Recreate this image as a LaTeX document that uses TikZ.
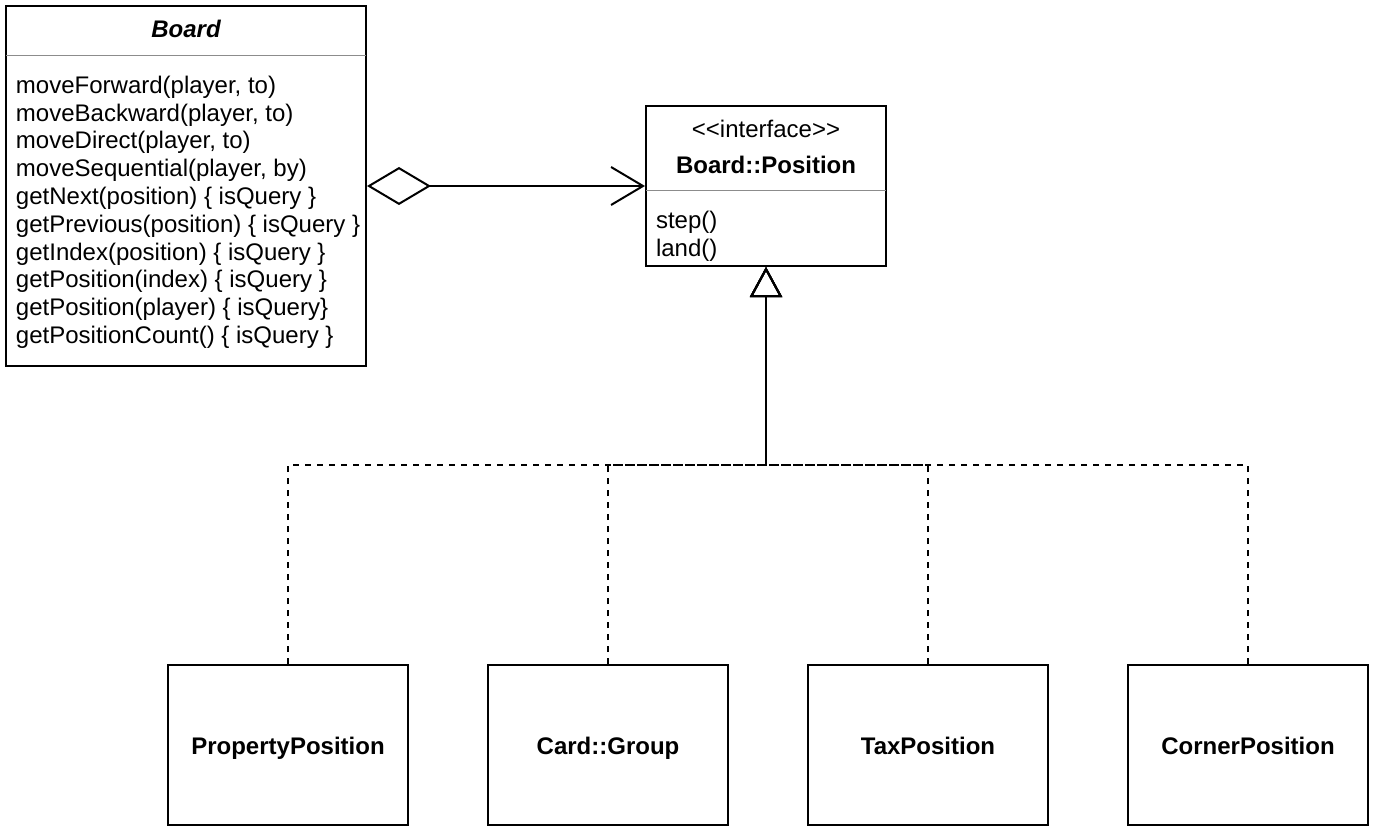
\documentclass[tikz,border=0pt]{standalone}
\usepackage{fontspec}
\setmainfont{Liberation Sans}
\usetikzlibrary{positioning, arrows.meta}
\newcommand\umlfont{\fontsize{12}{13.9}\selectfont}

\begin{document}
\begin{tikzpicture}[x=0.5pt, y=-0.5pt, line width=1pt,
    classbox/.style={draw, minimum width=120pt, minimum height=80pt, inner sep=0pt, font=\umlfont\bfseries},
    divider/.style={draw=black!45, line width=0.5pt},
    label/.style={inner sep=0pt, font=\umlfont},
    realizes/.style={dash pattern=on 3pt off 3pt, -{Triangle[open, length=15pt, width=16pt]}},
    owns/.style={arrows={Diamond[open, length=32pt, width=19pt]-Straight Barb[length=16pt, width=19pt]}}]
    \useasboundingbox (0,0) rectangle (1374,834);

    % Board class
    \node[classbox, minimum width=180pt, minimum height=180pt] (board) at (186,186) {};
    \node[label, font=\umlfont\bfseries\itshape] (boardname) at (186,29) {Board};
    \draw[divider] (6,56) -- (366,56);
    \node[label, align=left, anchor=north west] (boardops) at (15,75) {moveForward(player, to)\\
        moveBackward(player, to)\\
        moveDirect(player, to)\\
        moveSequential(player, by)\\
        getNext(position) \{ isQuery \}\\
        getPrevious(position) \{ isQuery \}\\
        getIndex(position) \{ isQuery \}\\
        getPosition(index) \{ isQuery \}\\
        getPosition(player) \{ isQuery\}\\
        getPositionCount() \{ isQuery \}};

    % Position interface
    \node[classbox] (position) at (766,186) {};
    \node[label] (stereo) at (766,129) {\textless\kern0pt\textless\kern0pt interface\kern0pt\textgreater\kern0pt\textgreater};
    \node[label, font=\umlfont\bfseries] (posname) at (766,165) {Board::Position};
    \draw[divider] (646,191) -- (886,191);
    \node[label, align=left, anchor=north west] (posops) at (655,210) {step()\\land()};

    % Implementations
    \tikzset{every node/.append style={text height=9.6pt, text depth=0pt}}
    \node[classbox] (property) at (288,745) {PropertyPosition};
    \node[classbox, right=39pt of property] (group) {Card::Group};
    \node[classbox, right=39pt of group] (tax) {TaxPosition};
    \node[classbox, right=39pt of tax] (corner) {CornerPosition};

    \coordinate (fork) at (766,465);

    % Relations
    \draw[owns] (board.east) -- (position.west);
    \draw[realizes] (property.north) |- (fork) -- (position.south);
    \draw[realizes] (group.north) |- (fork) -- (position.south);
    \draw[realizes] (tax.north) |- (fork) -- (position.south);
    \draw[realizes] (corner.north) |- (fork) -- (position.south);
\end{tikzpicture}
\end{document}
